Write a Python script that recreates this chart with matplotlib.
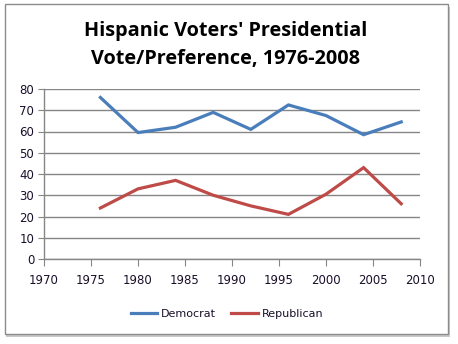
import matplotlib
matplotlib.use("Agg")
import matplotlib.pyplot as plt
from matplotlib.patches import Rectangle

years = [1976, 1980, 1984, 1988, 1992, 1996, 2000, 2004, 2008]
democrat = [76, 59.5, 62, 69, 61, 72.5, 67.5, 58.5, 64.5]
republican = [24, 33, 37, 30, 25, 21, 30.5, 43, 26]
title = "Hispanic Voters' Presidential\nVote/Preference, 1976-2008"

W, H = 458, 344
fig = plt.figure(figsize=(W / 100, H / 100), dpi=100)
fig.patch.set_facecolor("white")

# outer frame with shadow
fig.patches.append(Rectangle((6 / W, (H - 337) / H), 444 / W, 330 / H, transform=fig.transFigure,
                             facecolor="#c8c8c8", edgecolor="none", zorder=0))
fig.patches.append(Rectangle((4.5 / W, (H - 333.5) / H), 443.5 / W, 329 / H, transform=fig.transFigure,
                             facecolor="white", edgecolor="#8c8c8c", linewidth=1, zorder=1))

ax = fig.add_axes([44 / W, (H - 259) / H, (420 - 44) / W, (259 - 89) / H])
ax.set_zorder(3)
ax.set_facecolor("none")
ax.plot(years, democrat, color="#4A7EBB", linewidth=2.3, label="Democrat", solid_joinstyle="miter")
ax.plot(years, republican, color="#BE4B48", linewidth=2.3, label="Republican", solid_joinstyle="miter")

ax.set_xlim(1970, 2010)
ax.set_ylim(0, 80)
ax.set_xticks(range(1970, 2011, 5))
ax.set_yticks(range(0, 81, 10))
ax.yaxis.grid(True, color="#868686", linewidth=1)
ax.set_axisbelow(True)
for s in ["top", "right"]:
    ax.spines[s].set_visible(False)
for s in ["left", "bottom"]:
    ax.spines[s].set_color("#868686")
    ax.spines[s].set_linewidth(1)
ax.tick_params(axis="x", direction="out", length=5, color="#868686", labelsize=8.5, pad=6,
               labelcolor="#1a0f2a")
ax.tick_params(axis="y", direction="out", length=4, color="#868686", labelsize=8.5, pad=3,
               labelcolor="#1a0f2a")
for lab in ax.get_xticklabels() + ax.get_yticklabels():
    lab.set_family("DejaVu Sans")

t = fig.text(226 / W, (H - 45) / H, title, ha="center", va="center", fontsize=14.3,
             fontweight="bold", family="Open Sans", linespacing=1.5, color="black")
t.set_zorder(4)

leg = fig.legend(loc="center", bbox_to_anchor=(227 / W, (H - 314) / H), ncol=2, frameon=False,
                 fontsize=8, handlelength=2.4, columnspacing=1.35, handletextpad=0.35)
leg.set_zorder(4)
for tx in leg.get_texts():
    tx.set_color("#1a0f2a")

fig.savefig("out.png", dpi=100)
